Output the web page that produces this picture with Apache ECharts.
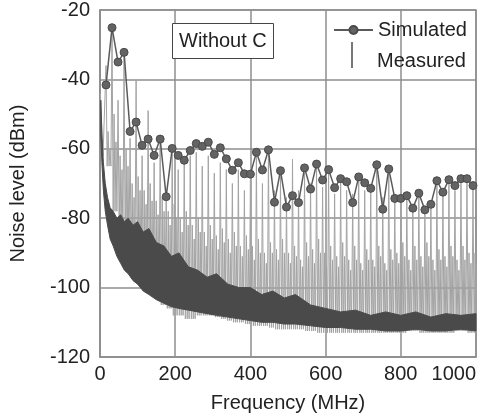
<!DOCTYPE html>
<html>
<head>
<meta charset="utf-8">
<script src="https://cdn.jsdelivr.net/npm/echarts@6/dist/echarts.min.js"></script>
<style>html,body{margin:0;padding:0;background:#fff}#c{width:486px;height:418px}</style>
</head>
<body>
<div id="c"></div>
<script>
// X tick labels / Y tick labels
const xTicks = [0, 200, 400, 600, 800, 1000];
const yTicks = [-120, -100, -80, -60, -40, -20];

// Simulated harmonics (MHz) and levels (dBm)
const simFreq = [16,32,48,64,80,96,112,128,144,160,176,192,208,224,240,256,272,288,304,320,336,352,368,384,400,416,432,448,464,480,496,512,528,544,560,576,592,608,624,640,656,672,688,704,720,736,752,768,784,800,816,832,848,864,880,896,912,928,944,960,976,992];
const simLevel = [-41.6,-25.1,-35.0,-32.2,-55.0,-52.3,-59.0,-57.2,-61.9,-57.2,-73.8,-59.9,-61.9,-63.3,-60.5,-58.5,-59.3,-58.1,-61.6,-59.7,-62.9,-66.2,-64.0,-67.2,-67.3,-61.0,-66.1,-60.3,-75.4,-66.3,-76.8,-73.5,-75.5,-65.5,-71.6,-64.4,-69.0,-66.0,-71.2,-68.6,-69.5,-75.5,-68.1,-69.8,-71.4,-64.6,-77.4,-65.8,-74.3,-74.3,-73.5,-77.1,-72.8,-77.6,-76.0,-69.2,-72.5,-68.9,-70.6,-68.6,-68.6,-70.6];

// Measured spectrum: peak at each harmonic, floor between, two secondary spikes between
const measPeak = [-36,-26,-46,-33,-57,-40,-62,-49,-64,-58,-72,-61,-66,-64,-62,-61,-65,-62,-67,-64,-66,-70,-66,-72,-69,-62,-70,-61,-72,-68,-74,-63,-72,-67,-70,-65,-71,-67,-73,-69,-72,-73,-69,-72,-71,-65,-74,-66,-74,-75,-74,-78,-73,-78,-76,-70,-73,-69,-72,-69,-69,-71];
const measFloor = [-65,-78,-85,-90,-94,-97,-100,-101,-103,-105,-106,-108,-108,-109,-109,-108,-108,-108,-108.5,-109,-109.5,-110,-110,-110.5,-111,-111,-111,-111.5,-112,-112,-112,-112,-112,-112.5,-112.5,-113,-113,-113,-113,-113,-113,-113,-113,-113,-113,-113,-113,-113,-113,-113,-112.5,-112.5,-113,-113,-113,-113,-113,-113,-112.5,-112.5,-113,-113];
const measMid1 = [-55,-50,-62,-60,-70,-68,-72,-70,-75,-74,-78,-76,-80,-78,-82,-80,-84,-82,-85,-83,-86,-84,-88,-85,-88,-86,-90,-87,-89,-86,-90,-88,-92,-87,-89,-86,-90,-88,-91,-87,-92,-88,-93,-89,-92,-88,-93,-89,-90,-87,-92,-88,-91,-87,-92,-89,-91,-88,-92,-88,-90,-90];
const measMid2 = [-60,-58,-66,-65,-74,-72,-76,-75,-79,-78,-82,-80,-84,-82,-86,-84,-88,-86,-89,-87,-90,-88,-91,-89,-92,-90,-93,-90,-92,-90,-93,-91,-94,-91,-93,-90,-94,-92,-94,-91,-95,-92,-95,-92,-94,-91,-95,-92,-93,-91,-95,-92,-94,-91,-95,-92,-94,-91,-95,-92,-93,-93];
const measStartFreq = [1, 8];
const measStartLevel = [-44, -62];

// Dark noise-floor band of the measurement
const bandFreq = [2,5,9,14,20,27,35,45,55,65,75,88,100,115,130,150,170,190,210,235,260,285,310,340,370,400,430,460,490,520,560,600,640,680,720,760,800,840,880,920,960,1000];
const bandTop = [-46,-56,-64,-70,-74,-77,-78,-80,-79,-81,-80,-82,-81,-84,-83,-87,-88,-91,-90,-94,-95,-97,-96,-99,-100,-100,-102,-101,-103,-102,-105,-106,-107,-106.5,-108,-107,-108,-107,-108.5,-107.5,-108,-107.5];
const bandBottom = [-56,-64,-72,-78,-82,-86,-88,-91,-93,-95,-96,-98,-99,-101,-102,-103.5,-104.5,-105.5,-106,-106.5,-107,-107.5,-108,-108.5,-109,-109.5,-110,-110,-110.5,-110.5,-111,-111.5,-111.5,-112,-112,-112.5,-112.5,-112,-112.5,-112.5,-112,-112.5];

const FONT = 'Liberation Sans, Arial, sans-serif';

const simData = simFreq.map((f, i) => [f, simLevel[i]]);
const measData = measStartFreq.map((f, i) => [f, measStartLevel[i]]);
simFreq.forEach((f, i) => {
  measData.push([f, measPeak[i]]);
  measData.push([f + 3, measFloor[i]]);
  measData.push([f + 5.5, measMid1[i]]);
  measData.push([f + 8, measFloor[i]]);
  measData.push([f + 10.5, measMid2[i]]);
  measData.push([f + 13, measFloor[i]]);
});
const bandData = bandFreq.map((f, i) => [f, bandTop[i], bandBottom[i]]);

const chart = echarts.init(document.getElementById('c'), null, {renderer: 'canvas'});
const gridColor = '#8e8e8e';
chart.setOption({
  animation: false,
  backgroundColor: '#fff',
  title: {
    text: 'Without C', left: 172, top: 23, padding: [8, 7],
    borderColor: '#444', borderWidth: 1, backgroundColor: '#fff',
    textStyle: {fontFamily: FONT, fontSize: 20, fontWeight: 'normal', color: '#222'}
  },
  legend: [
    {
      data: ['Simulated'], left: 333, top: 20, padding: 0, selectedMode: false,
      itemWidth: 39, itemHeight: 10,
      textStyle: {fontFamily: FONT, fontSize: 20, color: '#222'}
    },
    {
      data: [{name: 'Measured', icon: 'rect'}], left: 352, top: 51, padding: 0, selectedMode: false,
      itemWidth: 20, itemHeight: 14,
      itemStyle: {opacity: 0},
      textStyle: {fontFamily: FONT, fontSize: 20, color: '#222'}
    }
  ],
  graphic: [
    {type: 'line', z: 100, shape: {x1: 352, y1: 42, x2: 352, y2: 68}, style: {stroke: '#777', lineWidth: 2}}
  ],
  grid: {left: 100, right: 10, top: 10, bottom: 59, show: true, borderColor: gridColor, borderWidth: 1.5, backgroundColor: 'transparent'},
  xAxis: {
    type: 'value', min: xTicks[0], max: xTicks[xTicks.length - 1], interval: 200,
    name: 'Frequency (MHz)', nameLocation: 'middle', nameGap: 36,
    nameTextStyle: {fontFamily: FONT, fontSize: 20, color: '#222'},
    axisLine: {lineStyle: {color: gridColor, width: 1.5}},
    axisTick: {show: false},
    axisLabel: {fontFamily: FONT, fontSize: 20, color: '#222', margin: 7, alignMaxLabel: 'right', formatter: v => String(v)},
    splitLine: {show: true, lineStyle: {color: gridColor, width: 1.5}}
  },
  yAxis: {
    type: 'value', min: yTicks[0], max: yTicks[yTicks.length - 1], interval: 20,
    name: 'Noise level (dBm)', nameLocation: 'middle', nameGap: 72,
    nameTextStyle: {fontFamily: FONT, fontSize: 20, color: '#222'},
    axisLine: {show: true, lineStyle: {color: gridColor, width: 1.5}},
    axisTick: {show: false},
    axisLabel: {fontFamily: FONT, fontSize: 20, color: '#222', margin: 10, formatter: v => String(v)},
    splitLine: {show: true, lineStyle: {color: gridColor, width: 1.5}}
  },
  series: [
    {
      name: 'Measured', type: 'line', data: measData, showSymbol: false, symbol: 'none',
      lineStyle: {color: '#a3a3a3', width: 1}, itemStyle: {color: '#a3a3a3'}, z: 2, silent: true
    },
    {
      name: 'band', type: 'custom', data: bandData, z: 3, silent: true,
      encode: {x: 0, y: [1, 2]},
      renderItem: function (params, api) {
        if (params.dataIndex !== 0) return null;
        const pts = [];
        for (let i = 0; i < bandData.length; i++) pts.push(api.coord([bandData[i][0], bandData[i][1]]));
        for (let i = bandData.length - 1; i >= 0; i--) pts.push(api.coord([bandData[i][0], bandData[i][2]]));
        return {type: 'polygon', shape: {points: pts}, style: {fill: '#4a4a4a', stroke: '#4a4a4a', lineWidth: 1}};
      }
    },
    {
      name: 'Simulated', type: 'line', data: simData, symbol: 'circle', symbolSize: 8, showAllSymbol: true,
      lineStyle: {color: '#5a5a5a', width: 1.5},
      itemStyle: {color: '#636363', borderColor: '#4a4a4a', borderWidth: 1}, z: 5
    }
  ]
});
</script>
</body>
</html>
